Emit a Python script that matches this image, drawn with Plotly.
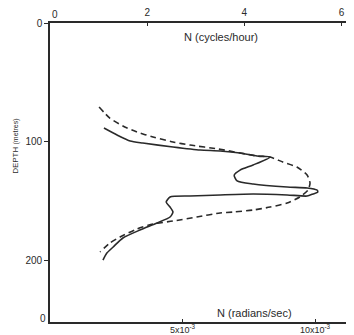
import plotly.graph_objects as go

# Solid profile: N (cycles/hour) vs depth (m)
solid_n = [1.11, 1.38, 1.65, 1.91, 2.53, 3.09, 3.50, 3.91, 4.26, 4.53, 4.18, 3.91, 3.79,
           3.85, 4.18, 4.88, 5.29, 5.49, 5.51, 5.41, 5.29, 4.88, 4.18, 3.50, 2.88, 2.47,
           2.39, 2.47, 2.53, 2.47, 2.20, 1.85, 1.50, 1.30, 1.17, 1.09]
solid_depth = [88.6, 94.5, 99.6, 101.3, 104.6, 107.2, 108.0, 109.7, 112.2, 113.1, 119.8, 124.1, 128.3,
               133.3, 135.9, 138.4, 139.2, 140.9, 142.6, 144.3, 146.0, 145.1, 144.3, 145.1, 146.0, 146.8,
               151.1, 155.3, 159.5, 163.7, 168.8, 174.7, 181.4, 189.0, 194.1, 200.0]

# Dashed profile
dash_n = [1.01, 1.23, 1.50, 1.79, 2.12, 2.53, 2.88, 3.46, 4.26, 4.53, 4.79, 5.08, 5.29, 5.35,
          5.31, 5.14, 4.88, 4.53, 4.18, 3.77, 3.50, 3.02, 2.53, 2.12, 1.79, 1.44, 1.23, 1.03]
dash_depth = [70.9, 80.2, 86.9, 92.0, 96.2, 100.4, 103.0, 106.3, 112.2, 113.1, 117.3, 121.5, 128.3, 135.0,
              140.9, 146.8, 151.9, 155.3, 157.8, 159.5, 160.3, 163.7, 167.1, 169.6, 173.8, 180.6, 185.7, 193.2]

depth_ticks = [0, 100, 200]
cph_ticks = [2, 4, 6]
rad_ticks = [0.005, 0.010]
rad_labels = ["5x10<sup>-3</sup>", "10x10<sup>-3</sup>"]

INK = "#2a2a2a"
FONT = "Liberation Sans"


def note(text, x, y, size, angle=0):
    return dict(text=text, x=x, y=y, xref="paper", yref="paper", showarrow=False,
                xanchor="center", yanchor="middle", textangle=angle,
                font=dict(size=size, color=INK, family=FONT))


fig = go.Figure()
fig.add_trace(go.Scatter(x=solid_n, y=solid_depth, xaxis="x2", yaxis="y", mode="lines",
                         line=dict(color=INK, width=1.6, shape="spline", smoothing=0.6),
                         showlegend=False, hoverinfo="skip"))
fig.add_trace(go.Scatter(x=dash_n, y=dash_depth, xaxis="x2", yaxis="y", mode="lines",
                         line=dict(color=INK, width=1.6, dash="6px,4px", shape="spline", smoothing=0.6),
                         showlegend=False, hoverinfo="skip"))
# empty trace to anchor the bottom axis
fig.add_trace(go.Scatter(x=[], y=[], xaxis="x", yaxis="y", showlegend=False))

fig.update_layout(
    width=346, height=327,
    margin=dict(l=42, r=0, t=15, b=13, autoexpand=False),
    paper_bgcolor="white", plot_bgcolor="white",
    font=dict(family=FONT, color=INK, size=10),
    xaxis=dict(range=[0, 0.01147], tickvals=rad_ticks, ticktext=rad_labels,
               showline=True, linecolor=INK, linewidth=1.6, ticks="inside", ticklen=3,
               tickcolor=INK, tickfont=dict(size=9, color=INK), showgrid=False, zeroline=False,
               anchor="y", side="bottom", automargin=False, ticklabelstandoff=-2),
    xaxis2=dict(range=[0, 6.255], tickvals=cph_ticks, overlaying="x", side="top", anchor="y",
                showline=True, linecolor=INK, linewidth=1.6, ticks="inside", ticklen=3,
                tickcolor=INK, tickfont=dict(size=10, color=INK), showgrid=False, zeroline=False,
                automargin=False, ticklabelstandoff=1),
    yaxis=dict(range=[252.3, 0], tickvals=depth_ticks, showline=True, linecolor=INK,
               linewidth=1.6, ticks="outside", ticklen=4, tickcolor=INK,
               tickfont=dict(size=10, color=INK), showgrid=False, zeroline=False,
               automargin=False),
    annotations=[
        note("N (cycles/hour)", 0.5625, 0.953, 11),
        note("N (radians/sec)", 0.674, 0.030, 11),
        note("DEPTH <span style='font-size:7px'>(metres)</span>", -0.112, 0.589, 8, -90),
        note("0", -0.023, 0.013, 10),
        note("0", 0.0164, 1.027, 10),
    ],
)

fig.write_html("out.html")
